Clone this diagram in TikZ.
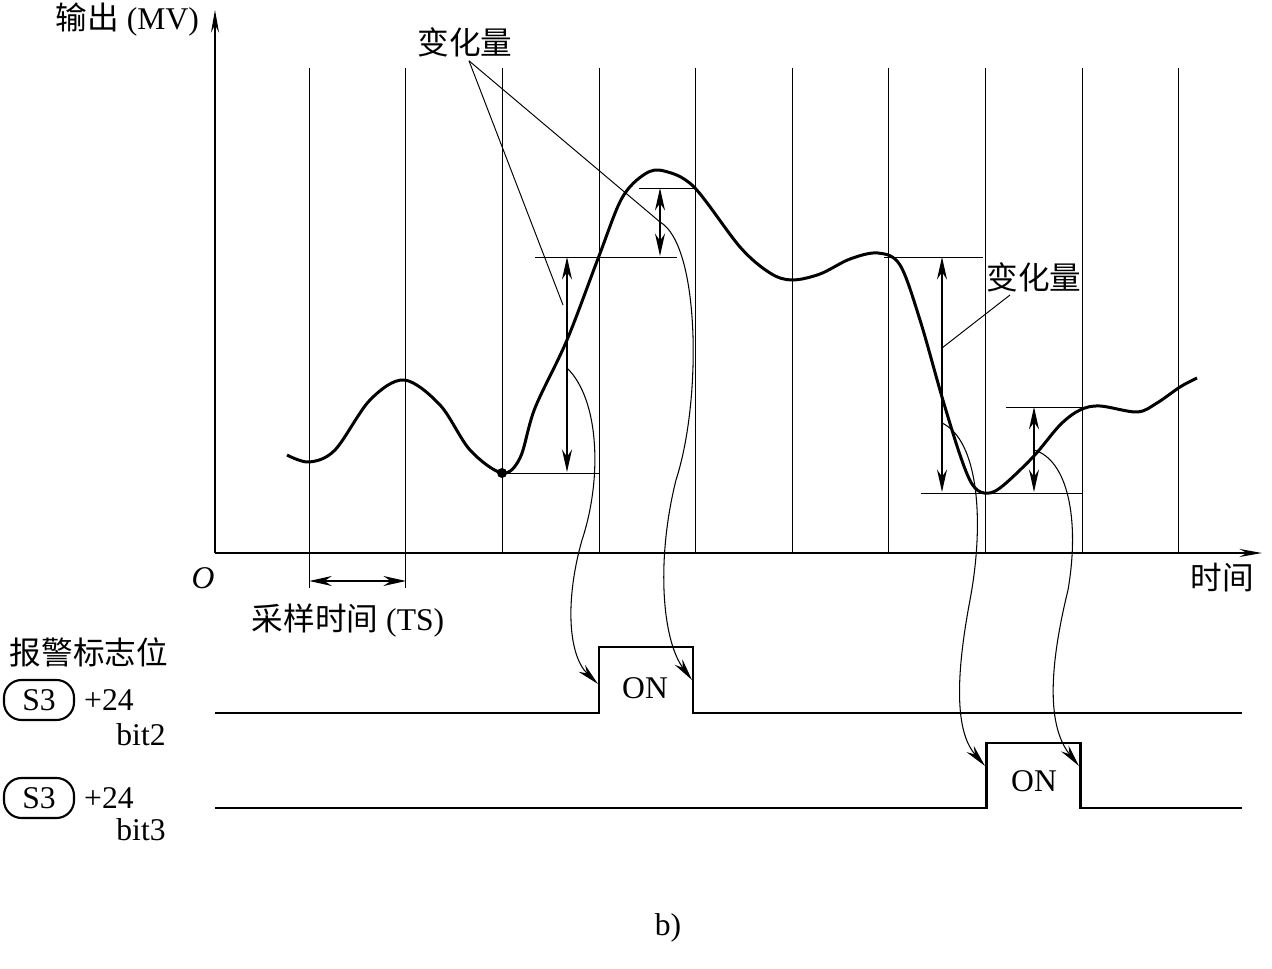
\documentclass[tikz,border=0pt]{standalone}
\usepackage{fontspec}
\setmainfont{Liberation Serif}
\newfontfamily\cjk{Noto Sans CJK SC}
\usetikzlibrary{arrows.meta,positioning,calc}

\begin{document}
\begin{tikzpicture}[x=0.02cm, y=-0.02cm,
    txt/.style={font=\fontsize{18}{21}\selectfont, inner sep=1pt},
    wave/.style={line width=1.7pt, line join=round},
    pulse/.style={line width=1.7pt},
    thin/.style={line width=0.55pt},
    axis/.style={line width=1.1pt, -{Stealth[length=4.5mm,width=1.6mm]}},
    dim/.style={line width=0.7pt, {Stealth[length=4.5mm,width=2mm]}-{Stealth[length=4.5mm,width=2mm]}},
    link/.style={line width=0.6pt, -{Stealth[length=4.5mm,width=1.9mm]}},
    flag/.style={draw, line width=1.2pt, rounded corners=0.35cm, minimum width=1.4cm, minimum height=0.8cm, font=\fontsize{18}{21}\selectfont}
]
\useasboundingbox (0,0) rectangle (1272,969);

% axes
\coordinate (O) at (215,553);
\coordinate (ytop) at (215,10);
\coordinate (xend) at (1262,553);
\draw[axis] (O) -- (ytop);
\draw[axis] (O) -- (xend);
\node[txt, anchor=east] (mv) at (201,20) {\cjk 输出\rm\ (MV)};
\node[txt] (orig) at (203,578) {\itshape O};
\node[txt] (time) at (1222,578) {\cjk 时间};

% sampling grid
\foreach \i in {0,...,9}
    \draw[thin] ({309.3+96.6*\i},68) -- ({309.3+96.6*\i},553);
\draw[thin] (309.3,553) -- (309.3,588);
\draw[thin] (405.9,553) -- (405.9,588);
\coordinate (ts1) at (309.3,581);
\coordinate (ts2) at (405.9,581);
\draw[dim] (ts1) -- (ts2);
\node[txt] (tslbl) at (348,621) {\cjk 采样时间\rm\ (TS)};

% measured value
\draw[wave] plot[smooth, tension=0.55] coordinates {
    (287,455) (309,462) (335,450) (370,400) (404,380) (440,405) (470,450)
    (502,473) (520,458) (535,408) (567,340) (599,256) (622,198)
    (645,174) (664,171) (694,187) (740,247) (770,273) (792,280) (820,274)
    (850,259) (878,253) (900,265) (920,320) (942,397) (960,455) (972,484)
    (984,493) (1000,488) (1033,457) (1060,425) (1080,410) (1100,406)
    (1137,412) (1157,403) (1180,387) (1197,378)};
\fill (502,473) circle (5);

% change levels
\draw[thin] (502,473) -- (599,473);
\draw[thin] (535,257) -- (677,257);
\draw[thin] (639,188) -- (696,188);
\draw[thin] (884,257) -- (983,257);
\draw[thin] (921,493) -- (1082,493);
\draw[thin] (1006,407) -- (1082,407);
\draw[dim] (567,257) -- (567,472);
\draw[dim] (660,188) -- (660,256);
\draw[dim] (942,257) -- (942,492);
\draw[dim] (1034,407) -- (1034,492);

\node[txt] (chg1) at (465,42) {\cjk 变化量};
\node[txt] (chg2) at (1034,277) {\cjk 变化量};
\coordinate (a1) at (567,368);
\coordinate (b1) at (660,222);
\coordinate (c1) at (942,423);
\coordinate (d1) at (1034,450);
\draw[thin] ($(chg1.south)+(4,2)$) -- (563,305);
\draw[thin] ($(chg1.south)+(4,2)$) -- (b1);
\draw[thin] (1010,295) -- (942,348);

% alarm flags
\node[txt] (alm) at (89,652) {\cjk 报警标志位};
\node[flag] (s3a) at (39,700) {S3};
\node[txt, right=4pt of s3a] (pa) {+24};
\node[txt] (bit2) at (141,735) {bit2};
\node[flag] (s3b) at (39,798) {S3};
\node[txt, right=4pt of s3b] (pb) {+24};
\node[txt] (bit3) at (141,830) {bit3};

\draw[pulse] (215,713) -- (599,713) -- (599,647) -- (693,647) -- (693,713) -- (1242,713);
\draw[pulse] (215,808) -- (986,808) -- (986,743) -- (1080,743) -- (1080,808) -- (1242,808);
\node[txt] (on1) at (645,688) {ON};
\node[txt] (on2) at (1034,781) {ON};
\coordinate (a2) at (598,684);
\coordinate (b2) at (692,680);
\coordinate (c2) at (985,766);
\coordinate (d2) at (1079,766);

\draw[link] (a1) .. controls (600,400) and (602,480) .. (582,540)
                 .. controls (565,600) and (568,655) .. (a2);
\draw[link] (b1) .. controls (700,245) and (702,400) .. (676,480)
                 .. controls (656,560) and (662,640) .. (b2);
\draw[link] (c1) .. controls (978,440) and (985,520) .. (970,600)
                 .. controls (953,690) and (958,735) .. (c2);
\draw[link] (d1) .. controls (1068,460) and (1080,520) .. (1068,590)
                 .. controls (1046,680) and (1050,730) .. (d2);

\node[txt] (cap) at (668,928) {b)};
\end{tikzpicture}
\end{document}
